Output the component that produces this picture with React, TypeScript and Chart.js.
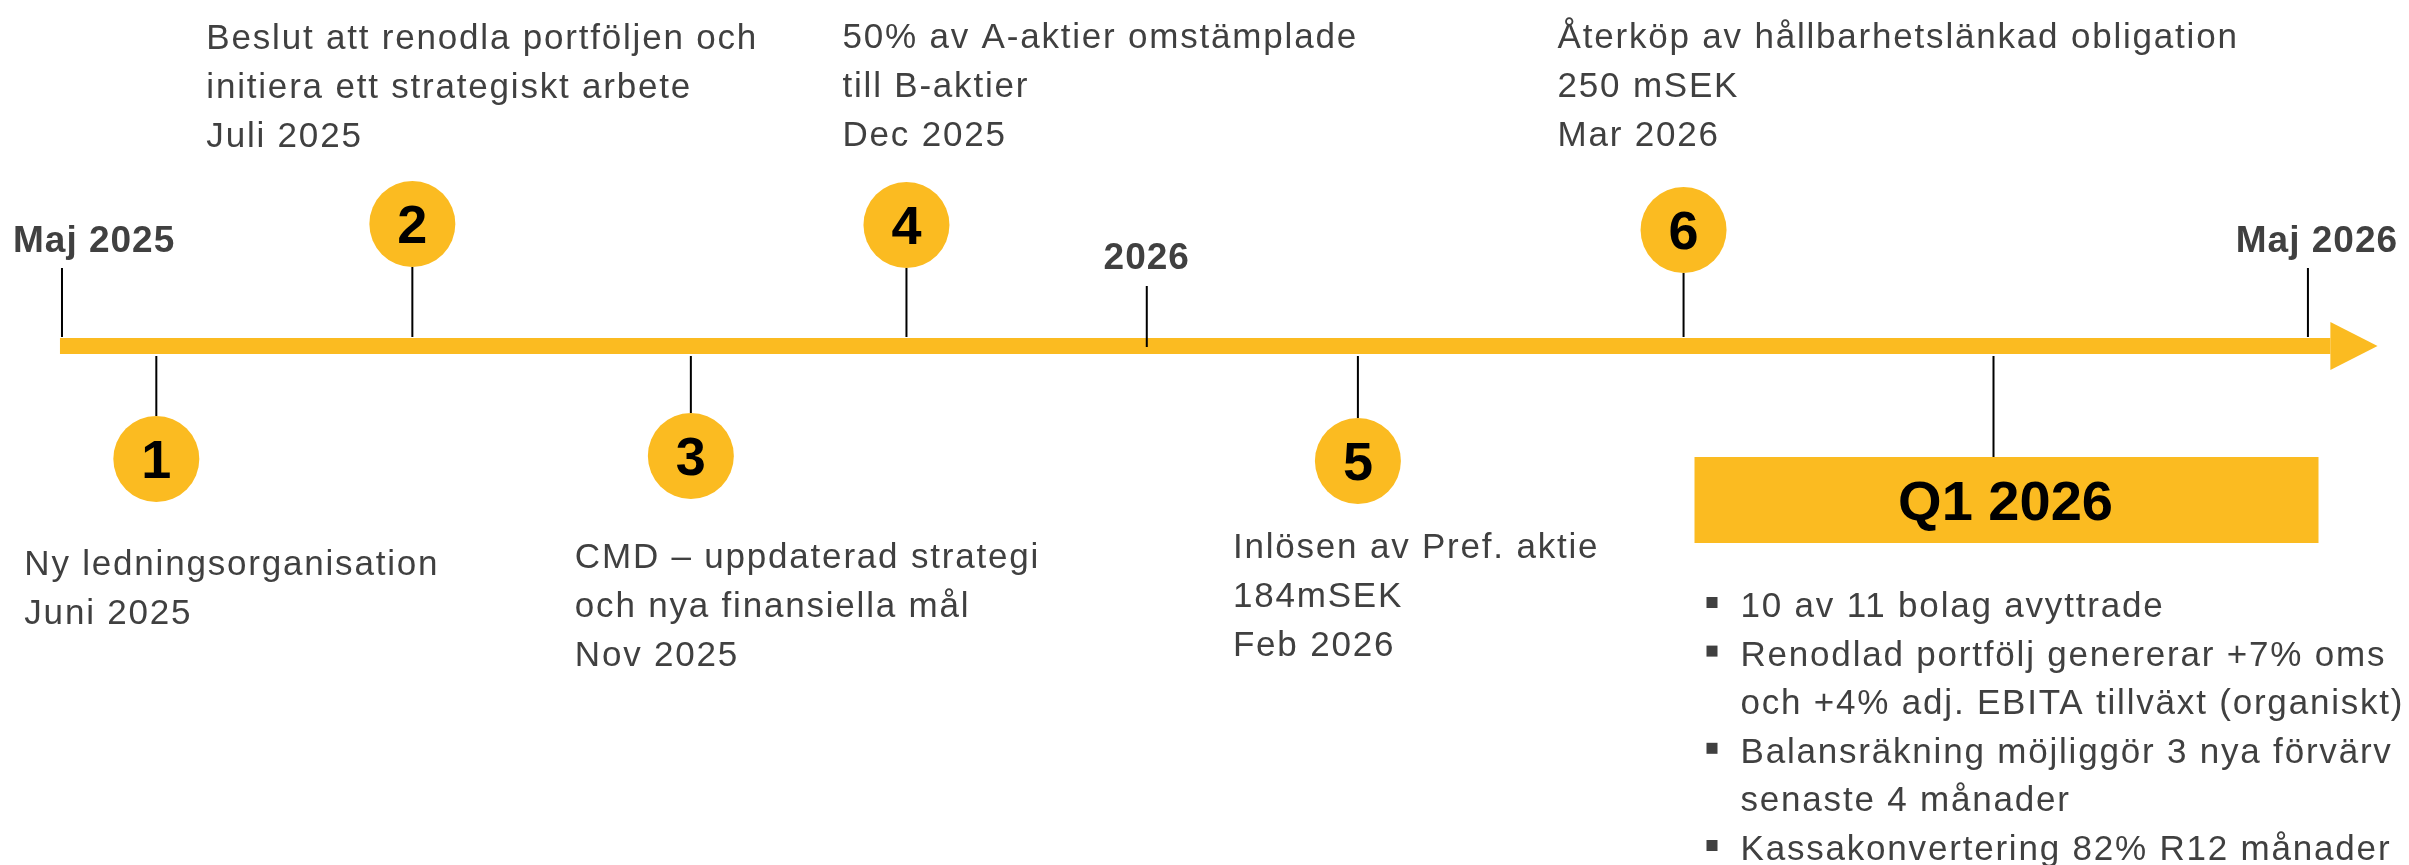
import { useEffect, useRef } from 'react';
import { Chart, registerables } from 'chart.js';

Chart.register(...registerables);

// ---------- data ----------
// Schematic timeline positions: 0 = Maj 2025, 100 = Maj 2026
const periodLabels = ['Maj 2025', '2026', 'Maj 2026'];
const periodPositions = [0, 48.3, 100];

const eventNumbers = ['1', '2', '3', '4', '5', '6'];
const eventPositions = [4.2, 15.6, 28.0, 37.6, 57.7, 72.2];
const eventSides = ['below', 'above', 'below', 'above', 'below', 'above'];
const eventTexts = [
  ['Ny ledningsorganisation', 'Juni 2025'],
  ['Beslut att renodla portföljen och', 'initiera ett strategiskt arbete', 'Juli 2025'],
  ['CMD – uppdaterad strategi', 'och nya finansiella mål', 'Nov 2025'],
  ['50% av A-aktier omstämplade', 'till B-aktier', 'Dec 2025'],
  ['Inlösen av Pref. aktie', '184mSEK', 'Feb 2026'],
  ['Återköp av hållbarhetslänkad obligation', '250 mSEK', 'Mar 2026'],
];

const summaryLabel = 'Q1 2026';
const summaryPosition = 86.0;
const summaryBullets = [
  ['10 av 11 bolag avyttrade'],
  ['Renodlad portfölj genererar +7% oms', 'och +4% adj. EBITA tillväxt (organiskt)'],
  ['Balansräkning möjliggör 3 nya förvärv', 'senaste 4 månader'],
  ['Kassakonvertering 82% R12 månader'],
];

const axisStart = -0.09;
const arrowBase = 101.0;
const arrowTip = 103.1;

// ---------- layout / style ----------
const W = 2409;
const H = 865;
const X_MIN = -2.76;
const X_MAX = 104.5;
const GOLD = '#FBBB21';
const TEXT = '#404040';
const FAMILY = '"Liberation Sans", Arial, Helvetica, sans-serif';

const AXIS_Y = 346;
const AXIS_W = 16;
const ARROW_HALF = 24;
const CIRCLE_R = 43;
const TICK_ABOVE_END = 337;
const TICK_BELOW_START = 356;
const periodTickSpans = [[268, 337], [286, 347], [268, 337]];
const periodLabelLayout = [
  { dx: -49, align: 'left', baseline: 252 },
  { dx: 0, align: 'center', baseline: 269 },
  { dx: 9, align: 'center', baseline: 252 },
];
const circleYs = [459, 224, 456, 225, 461, 230];
const textOffsetX = [-132, -206, -116, -64, -125, -126];
const textFirstBaseline = [575, 49, 568, 48, 558, 48];
const LINE_H = 49;
const BODY_FONT = `35px ${FAMILY}`;
const BODY_LS = 1.8;

const BOX = { left: -299, right: 325, top: 457, bottom: 543, textDx: 12, baseline: 520 };
const BULLET = { squareDx: -287, textDx: -253, first: 617, lineH: 48.6, size: 11 };

function drawText(
  ctx: CanvasRenderingContext2D,
  s: string,
  x: number,
  y: number,
  font: string,
  color: string,
  align: CanvasTextAlign,
  ls: number
) {
  ctx.font = font;
  ctx.fillStyle = color;
  ctx.textAlign = align;
  ctx.textBaseline = 'alphabetic';
  (ctx as any).letterSpacing = `${ls}px`;
  ctx.fillText(s, x, y);
  (ctx as any).letterSpacing = '0px';
}

const overlayPlugin = {
  id: 'timelineOverlay',
  afterDatasetsDraw(chart: any) {
    const ctx: CanvasRenderingContext2D = chart.ctx;
    const xs = chart.scales.x;
    const ys = chart.scales.y;
    const px = (v: number) => xs.getPixelForValue(v);
    const py = (v: number) => ys.getPixelForValue(v);
    ctx.save();

    // arrow head
    const yA = py(AXIS_Y);
    ctx.fillStyle = GOLD;
    ctx.beginPath();
    ctx.moveTo(px(arrowBase), yA - ARROW_HALF);
    ctx.lineTo(px(arrowTip), yA);
    ctx.lineTo(px(arrowBase), yA + ARROW_HALF);
    ctx.closePath();
    ctx.fill();

    // period labels
    periodLabels.forEach((lab, i) => {
      const L = periodLabelLayout[i];
      drawText(ctx, lab, px(periodPositions[i]) + L.dx, py(L.baseline), `bold 37px ${FAMILY}`, TEXT, L.align as CanvasTextAlign, 1);
    });

    // circle numbers and event texts
    eventNumbers.forEach((n, i) => {
      const cx = px(eventPositions[i]);
      const cy = py(circleYs[i]);
      drawText(ctx, n, cx, cy + 19, `bold 54px ${FAMILY}`, '#000000', 'center', 0);
      eventTexts[i].forEach((line, j) => {
        drawText(ctx, line, cx + textOffsetX[i], py(textFirstBaseline[i] + j * LINE_H), BODY_FONT, TEXT, 'left', BODY_LS);
      });
    });

    // summary box
    const sx = px(summaryPosition);
    ctx.fillStyle = GOLD;
    ctx.fillRect(sx + BOX.left, py(BOX.top), BOX.right - BOX.left, py(BOX.bottom) - py(BOX.top));
    drawText(ctx, summaryLabel, sx + BOX.textDx, py(BOX.baseline), `bold 56px ${FAMILY}`, '#000000', 'center', 0);

    // bullets
    let k = 0;
    summaryBullets.forEach((lines) => {
      lines.forEach((line, j) => {
        const by = py(BULLET.first + k * BULLET.lineH);
        if (j === 0) {
          ctx.fillStyle = TEXT;
          ctx.fillRect(sx + BULLET.squareDx, by - 20, BULLET.size, BULLET.size);
        }
        drawText(ctx, line, sx + BULLET.textDx, by, BODY_FONT, TEXT, 'left', BODY_LS);
        k++;
      });
    });

    ctx.restore();
  },
};

export default function App() {
  const ref = useRef<HTMLCanvasElement | null>(null);

  useEffect(() => {
    document.body.style.margin = '0';
    if (!ref.current) return;

    const datasets: any[] = [];

    // main axis bar
    datasets.push({
      type: 'line',
      data: [
        { x: axisStart, y: AXIS_Y },
        { x: arrowBase, y: AXIS_Y },
      ],
      borderColor: GOLD,
      borderWidth: AXIS_W,
      borderCapStyle: 'butt',
      pointRadius: 0,
      order: 3,
    });

    // period ticks
    periodPositions.forEach((p, i) => {
      datasets.push({
        type: 'line',
        data: [
          { x: p, y: periodTickSpans[i][0] },
          { x: p, y: periodTickSpans[i][1] },
        ],
        borderColor: '#000000',
        borderWidth: 2,
        pointRadius: 0,
        order: 2,
      });
    });

    // event ticks
    eventPositions.forEach((p, i) => {
      const above = eventSides[i] === 'above';
      const a = above ? circleYs[i] + CIRCLE_R : TICK_BELOW_START;
      const b = above ? TICK_ABOVE_END : circleYs[i] - CIRCLE_R;
      datasets.push({
        type: 'line',
        data: [
          { x: p, y: a },
          { x: p, y: b },
        ],
        borderColor: '#000000',
        borderWidth: 2,
        pointRadius: 0,
        order: 2,
      });
    });

    // summary tick
    datasets.push({
      type: 'line',
      data: [
        { x: summaryPosition, y: TICK_BELOW_START },
        { x: summaryPosition, y: BOX.top },
      ],
      borderColor: '#000000',
      borderWidth: 2,
      pointRadius: 0,
      order: 2,
    });

    // event circles
    datasets.push({
      type: 'scatter',
      data: eventPositions.map((p, i) => ({ x: p, y: circleYs[i] })),
      pointRadius: CIRCLE_R,
      pointHoverRadius: CIRCLE_R,
      pointBackgroundColor: GOLD,
      pointBorderWidth: 0,
      order: 1,
    });

    const chart = new Chart(ref.current, {
      type: 'scatter',
      data: { datasets },
      options: {
        animation: false,
        responsive: false,
        maintainAspectRatio: false,
        events: [],
        layout: { padding: 0, autoPadding: false },
        plugins: { legend: { display: false }, tooltip: { enabled: false } },
        scales: {
          x: { type: 'linear', min: X_MIN, max: X_MAX, display: false },
          y: { type: 'linear', min: 0, max: H, reverse: true, display: false },
        },
      } as any,
      plugins: [overlayPlugin],
    });

    return () => chart.destroy();
  }, []);

  return (
    <div style={{ width: W, height: H, background: '#ffffff' }}>
      <canvas ref={ref} width={W} height={H} style={{ display: 'block' }} />
    </div>
  );
}
